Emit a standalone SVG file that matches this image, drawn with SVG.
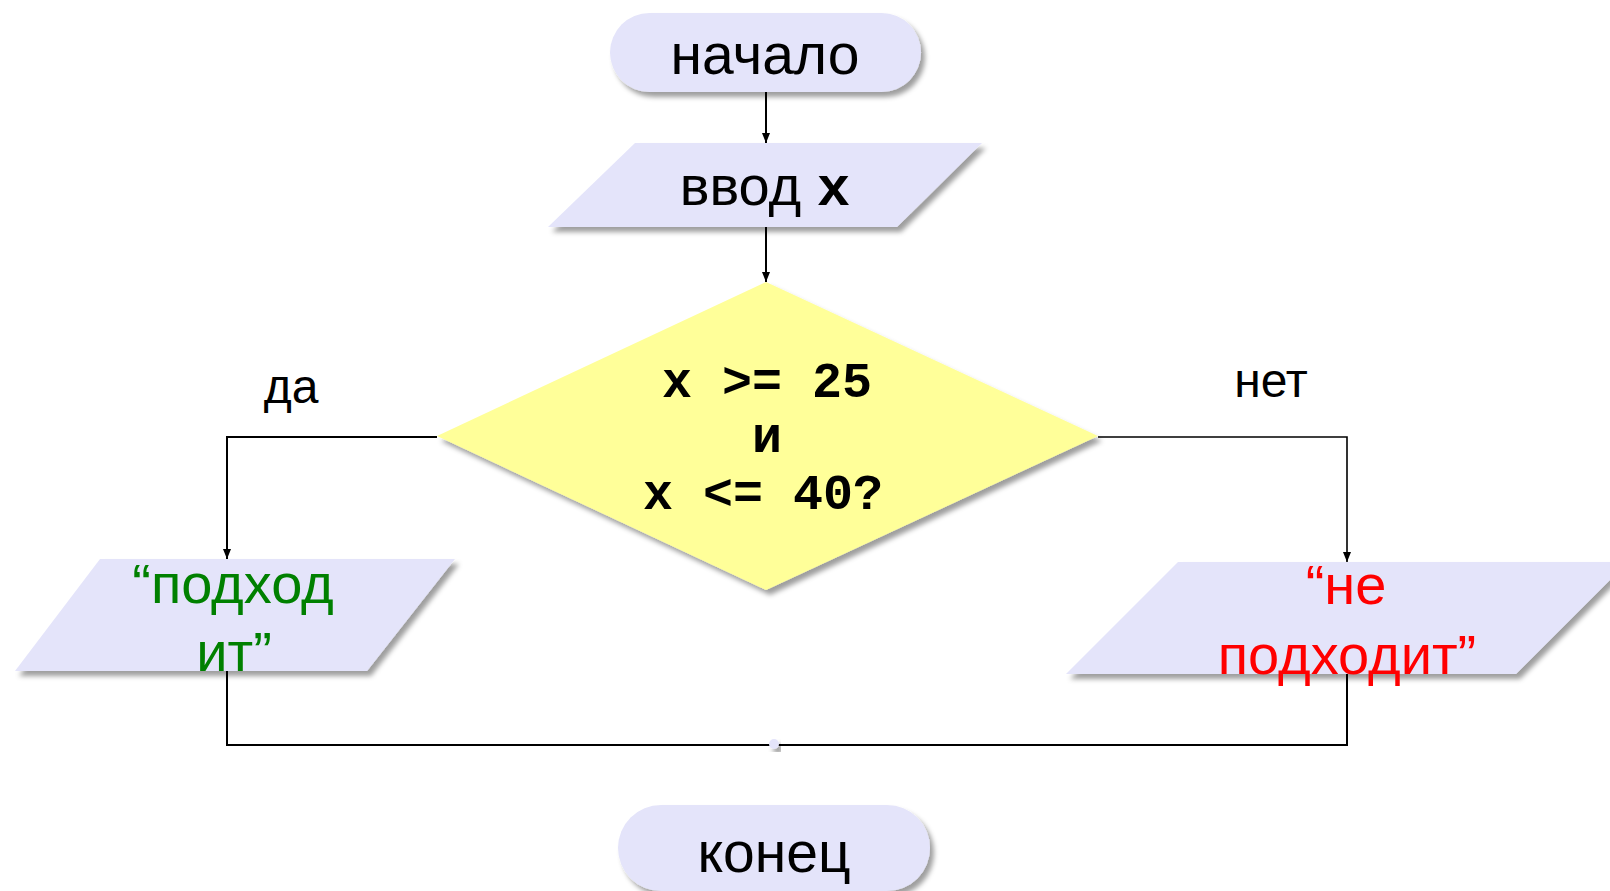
<svg xmlns="http://www.w3.org/2000/svg" width="1610" height="891" viewBox="0 0 1610 891">
<defs>
<filter id="sh" x="-10%" y="-10%" width="130%" height="140%">
<feDropShadow dx="4" dy="5" stdDeviation="2.5" flood-color="#000" flood-opacity="0.38"/>
</filter>
<marker id="ah" markerWidth="10" markerHeight="10" viewBox="0 0 10 10" refX="10" refY="5" orient="auto" markerUnits="userSpaceOnUse">
<path d="M0,1 L10,5 L0,9 Z" fill="#000"/>
</marker>
<style>
.lav{fill:#E4E4FA;filter:url(#sh)}
.yel{fill:#FFFF99;filter:url(#sh)}
.t{font-family:"Liberation Sans",Arial,sans-serif;fill:#000;text-anchor:middle}
.m{font-family:"Liberation Mono","Courier New",monospace;font-weight:bold;fill:#000;text-anchor:middle}
.c{fill:none;stroke:#000;stroke-width:2}
</style>
</defs>
<rect width="1610" height="891" fill="#fff"/>
<g id="connectors">
<line class="c" x1="766" y1="92" x2="766" y2="143" marker-end="url(#ah)"/>
<line class="c" x1="766" y1="227" x2="766" y2="282" marker-end="url(#ah)"/>
<polyline class="c" points="437,437 227,437 227,559" marker-end="url(#ah)"/>
<polyline class="c" style="stroke-width:1.6" points="1098,437 1347,437 1347,562" marker-end="url(#ah)"/>
<polyline class="c" points="227,671 227,745 1347,745 1347,674"/>
<circle cx="774" cy="744" r="5" class="lav"/>
</g>
<g id="start">
<rect class="lav" x="610" y="13" width="311" height="79" rx="39.5"/>
<text class="t" x="765" y="74" font-size="57">начало</text>
</g>
<g id="input">
<polygon class="lav" points="635,143 982,143 897,227 548,227"/>
<text class="t" x="765" y="205" font-size="56">ввод <tspan class="m" style="text-anchor:start">x</tspan></text>
</g>
<g id="decision">
<polygon class="yel" points="766,282 1098,436 766,590 437,436"/>
<text class="m" x="767" y="397" font-size="50">x &gt;= 25</text>
<text class="m" x="767" y="452" font-size="50">и</text>
<text class="m" x="763" y="509" font-size="50">x &lt;= 40?</text>
</g>
<g id="label-yes">
<text class="t" x="291" y="403" font-size="48">да</text>
</g>
<g id="label-no">
<text class="t" x="1271" y="397" font-size="48">нет</text>
</g>
<g id="out-yes">
<polygon class="lav" points="100,559 455,559 367,671 15,671"/>
<text class="t" x="233" y="603" font-size="56" style="fill:#008000">“подход</text>
<text class="t" x="234" y="671" font-size="56" style="fill:#008000">ит”</text>
</g>
<g id="out-no">
<polygon class="lav" points="1178,562 1628,562 1516,674 1066,674"/>
<text class="t" x="1346" y="604" font-size="56" style="fill:#FF0000">“не</text>
<text class="t" x="1347" y="674" font-size="56" style="fill:#FF0000">подходит”</text>
</g>
<g id="end">
<rect class="lav" x="618" y="805" width="312" height="86" rx="43"/>
<text class="t" x="774" y="872" font-size="57">конец</text>
</g>
</svg>
